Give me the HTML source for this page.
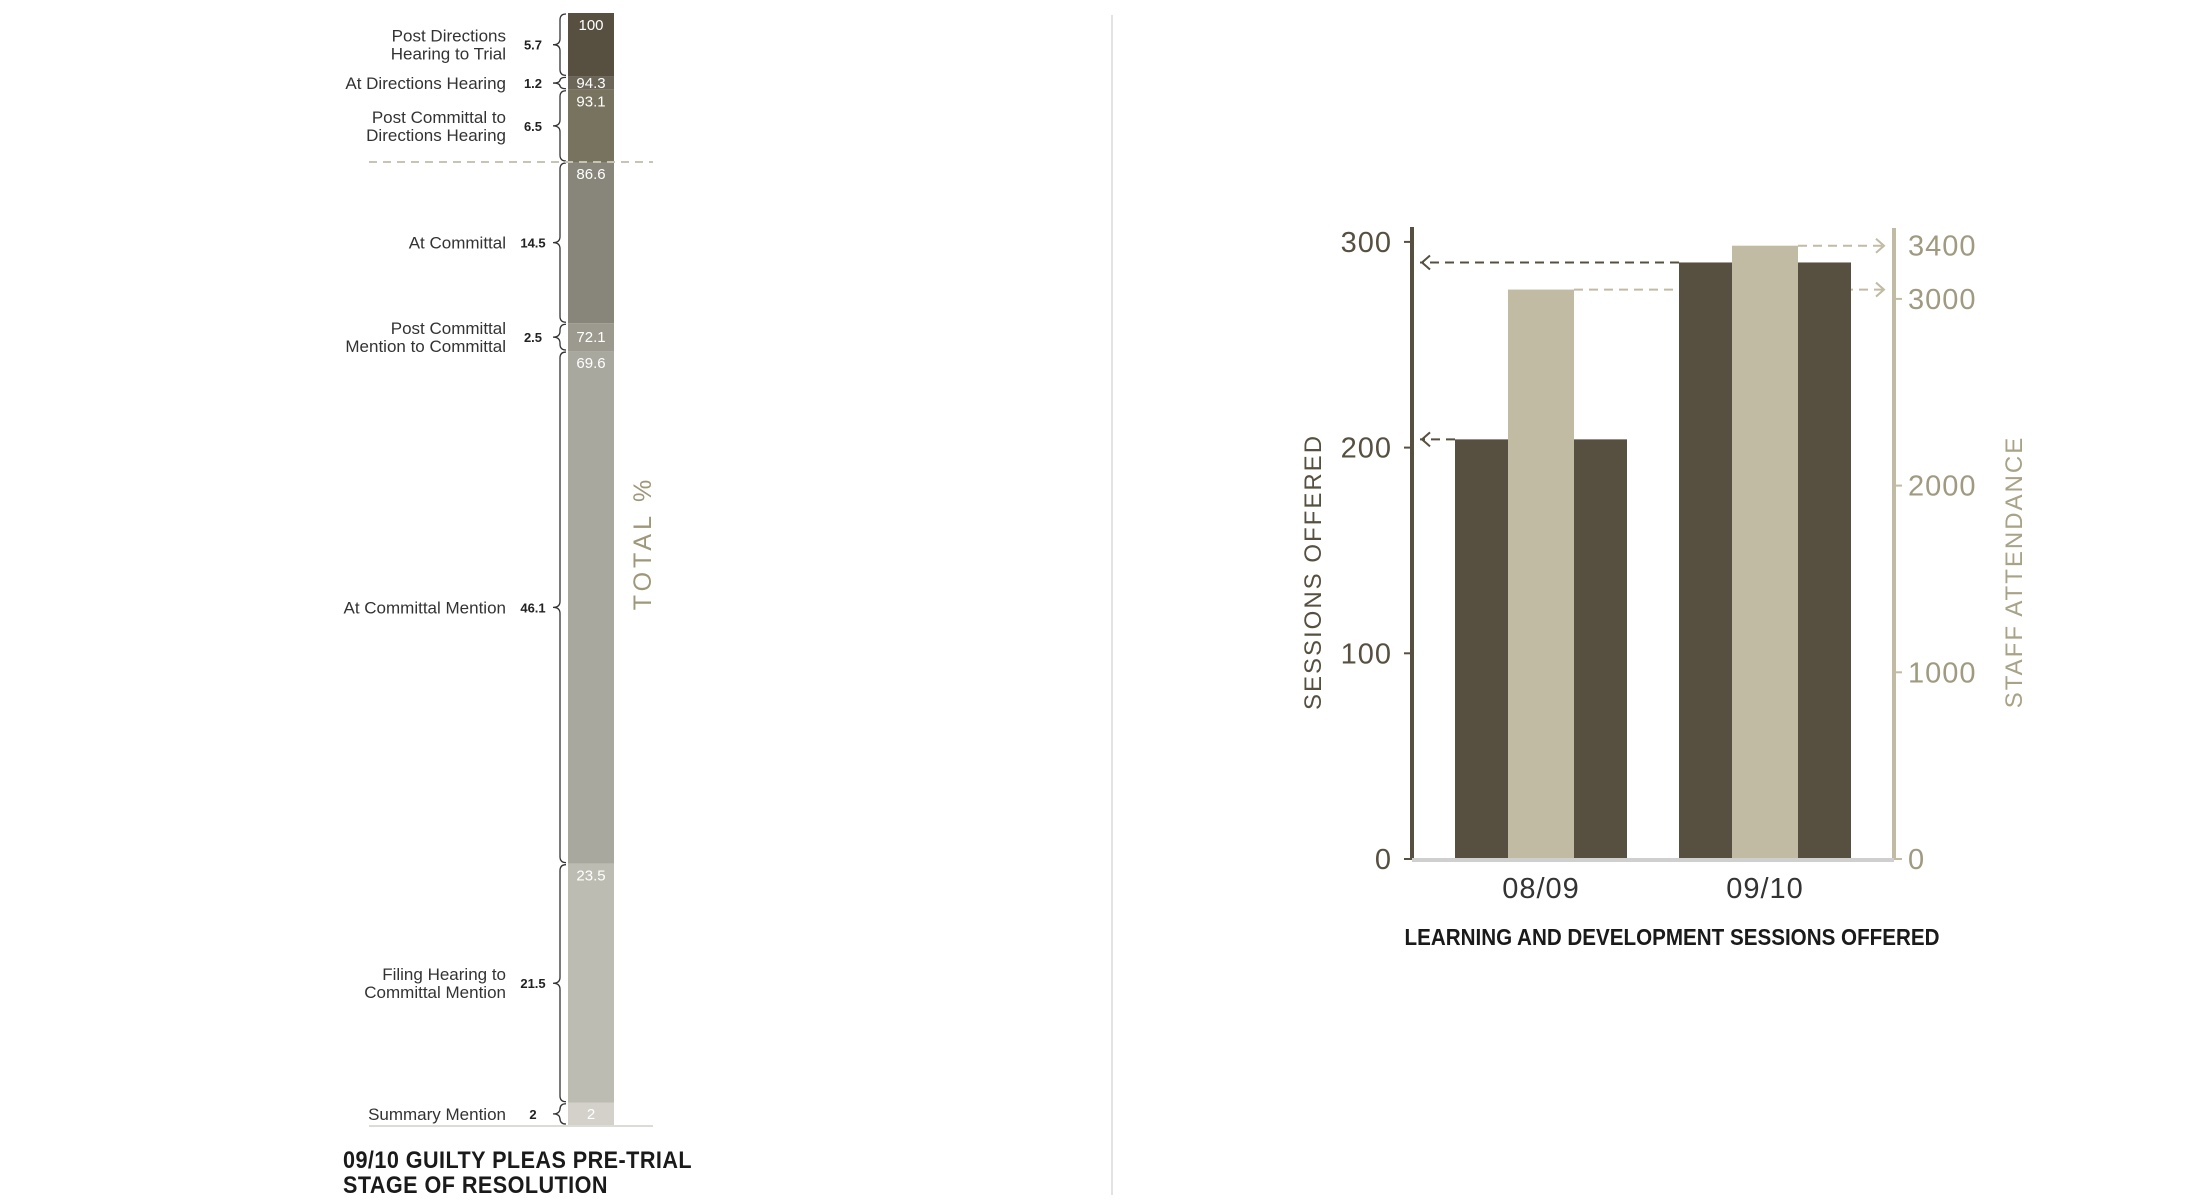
<!DOCTYPE html>
<html><head><meta charset="utf-8"><style>
html,body{margin:0;padding:0;background:#fff;}
svg{display:block;font-family:"Liberation Sans",sans-serif;}
</style></head><body>
<svg id="c" width="2200" height="1200" viewBox="0 0 2200 1200" xmlns="http://www.w3.org/2000/svg">
<line x1="1112" y1="15" x2="1112" y2="1195" stroke="#e3e3e3" stroke-width="2"/>
<g id="left"></g>
<g id="right"></g>
</svg>
<script>
// ----- Left chart data -----
const stageNames = [["Summary Mention"],["Filing Hearing to","Committal Mention"],["At Committal Mention"],["Post Committal","Mention to Committal"],["At Committal"],["Post Committal to","Directions Hearing"],["At Directions Hearing"],["Post Directions","Hearing to Trial"]];
const stageValues = [2, 21.5, 46.1, 2.5, 14.5, 6.5, 1.2, 5.7];
const stageValueLabels = ["2","21.5","46.1","2.5","14.5","6.5","1.2","5.7"];
const cumLabels = ["2","23.5","69.6","72.1","86.6","93.1","94.3","100"];
const stageColors = ["#d3d1c9","#bdbcb2","#a9a89f","#9c9a8f","#88867a","#77735f","#6b6657","#575040"];
const dividerValue = 86.6;

const NS = "http://www.w3.org/2000/svg";
function mk(tag, attrs, parent, text){const e=document.createElementNS(NS,tag);for(const k in attrs)e.setAttribute(k,attrs[k]);if(text!==undefined)e.textContent=text;parent.appendChild(e);return e;}

(function(){
  const g=document.getElementById('left');
  const y0=1125, y100=13;
  const ys=v=>y0-(y0-y100)*v/100;
  const bx=568, bw=46;
  let cum=0;
  stageValues.forEach((v,i)=>{
    const b=cum, t=cum+v; cum=t;
    const yt=ys(t), yb=ys(b);
    const r=mk('rect',{x:bx,y:yt,width:bw,height:yb-yt,fill:stageColors[i]},g);
    
    
    const ty=(yb-yt)<30?(yt+yb)/2+5:yt+17;
    const lt=mk('text',{x:bx+bw/2,y:ty,'text-anchor':'middle','font-size':'15',fill:'#fff'},g,cumLabels[i]);
    
    
    // brace
    const x0=566,x1=560,xp=553,mid=(yt+yb)/2,rr=Math.min(6,(yb-yt)/4);
    const p=mk('path',{d:`M${x0} ${yt+1} Q${x1} ${yt+1} ${x1} ${yt+1+rr} L${x1} ${mid-rr} Q${x1} ${mid} ${xp} ${mid} Q${x1} ${mid} ${x1} ${mid+rr} L${x1} ${yb-1-rr} Q${x1} ${yb-1} ${x0} ${yb-1}`,fill:'none',stroke:'#333','stroke-width':'1.3'},g);
    
    
    const vt=mk('text',{x:533,y:mid+5,'text-anchor':'middle','font-size':'13','font-weight':'bold',fill:'#222'},g,stageValueLabels[i]);
    
    
    const lines=stageNames[i];
    lines.forEach((s,j)=>{
      const yy=mid+6+(j-(lines.length-1)/2)*18;
      const nt=mk('text',{x:506,y:yy,'text-anchor':'end','font-size':'17',fill:'#333'},g,s);
      
      
    });
  });
  const dl=mk('line',{x1:369,x2:653,y1:ys(dividerValue),y2:ys(dividerValue),stroke:'#c8c4b4','stroke-width':'2','stroke-dasharray':'8 6'},g);
  
  
  const bl=mk('line',{x1:369,x2:653,y1:y0+1,y2:y0+1,stroke:'#dcdcd6','stroke-width':'2'},g);
  
  
  const tt=mk('text',{x:0,y:0,transform:'translate(651,543) rotate(-90)','text-anchor':'middle','font-size':'25','letter-spacing':'4',fill:'#9e9779'},g,'TOTAL %');
  
  
  const t1=mk('text',{x:343,y:1168,'font-size':'24','font-weight':'bold',fill:'#1a1a1a','letter-spacing':'0.5',transform:'translate(343 0) scale(0.9 1) translate(-343 0)'},g,'09/10 GUILTY PLEAS PRE-TRIAL');
  
  
  const t2=mk('text',{x:343,y:1193,'font-size':'24','font-weight':'bold',fill:'#1a1a1a','letter-spacing':'0.5',transform:'translate(343 0) scale(0.9 1) translate(-343 0)'},g,'STAGE OF RESOLUTION');
  
  
})();

// ----- Right chart data -----
const years = ["08/09","09/10"];
const sessions = [204, 290];
const attendance = [3050, 3285];
const leftTicks = [0,100,200,300];
const rightTicks = [0,1000,2000,3000];
const rightTopLabel = "3400";

(function(){
  const g=document.getElementById('right');
  const y0=859, ax=1412, rx=1894;
  const yL=v=>y0-v*2.057;
  const yR=v=>y0-v*0.1867;
  const cx=i=>1541+i*224;
  const dark="#575040", light="#c1bba3", lightTxt="#a09a80";
  // dashed guides
  years.forEach((y,i)=>{
    const sy=yL(sessions[i]);
    const d=mk('line',{x1:cx(i)-86,x2:ax+8,y1:sy,y2:sy,stroke:dark,'stroke-width':'2','stroke-dasharray':'9 6'},g);
    
    
    const a=mk('path',{d:`M${ax+18} ${sy-7} L${ax+10} ${sy} L${ax+18} ${sy+7}`,fill:'none',stroke:dark,'stroke-width':'2'},g);
    
    
    const ay=yR(attendance[i]);
    const d2=mk('line',{x1:cx(i)+33,x2:rx-8,y1:ay,y2:ay,stroke:light,'stroke-width':'2','stroke-dasharray':'9 6'},g);
    
    
    const a2=mk('path',{d:`M${rx-18} ${ay-7} L${rx-10} ${ay} L${rx-18} ${ay+7}`,fill:'none',stroke:light,'stroke-width':'2'},g);
    
    
  });
  years.forEach((y,i)=>{
    const sy=yL(sessions[i]);
    const b=mk('rect',{x:cx(i)-86,y:sy,width:172,height:y0-sy,fill:dark},g);
    
    
    const ay=yR(attendance[i]);
    const b2=mk('rect',{x:cx(i)-33,y:ay,width:66,height:y0-ay,fill:light},g);
    
    
    const xl=mk('text',{x:cx(i),y:898,'text-anchor':'middle','font-size':'29',fill:'#333','letter-spacing':'1'},g,y);
    
    
  });
  const la=mk('line',{x1:ax,x2:ax,y1:227,y2:860,stroke:dark,'stroke-width':'4'},g);
  
  
  const ra=mk('line',{x1:rx,x2:rx,y1:228,y2:860,stroke:light,'stroke-width':'4'},g);
  
  
  const base=mk('line',{x1:ax,x2:rx,y1:860,y2:860,stroke:'#cfcfcf','stroke-width':'4'},g);
  
  
  leftTicks.forEach(v=>{
    const y=yL(v);
    const tk=mk('line',{x1:ax-8,x2:ax,y1:y,y2:y,stroke:dark,'stroke-width':'2'},g);
    
    
    const t=mk('text',{x:1392,y:y+10,'text-anchor':'end','font-size':'29',fill:dark,'letter-spacing':'1'},g,String(v));
    
    
  });
  rightTicks.forEach(v=>{
    const y=yR(v);
    const tk=mk('line',{x1:rx,x2:rx+8,y1:y,y2:y,stroke:light,'stroke-width':'2'},g);
    
    
    const t=mk('text',{x:1908,y:y+10,'font-size':'29',fill:lightTxt,'letter-spacing':'1'},g,String(v));
    
    
  });
  const topY=yR(Math.max(...attendance));
  const tl=mk('text',{x:1908,y:topY+10,'font-size':'29',fill:lightTxt,'letter-spacing':'1'},g,rightTopLabel);
  
  
  const lt=mk('text',{x:0,y:0,transform:'translate(1321,572) rotate(-90)','text-anchor':'middle','font-size':'24','letter-spacing':'2',fill:dark},g,'SESSIONS OFFERED');
  
  
  const rt=mk('text',{x:0,y:0,transform:'translate(2022,572) rotate(-90)','text-anchor':'middle','font-size':'24','letter-spacing':'2',fill:'#a8a287'},g,'STAFF ATTENDANCE');
  
  
  const ti=mk('text',{x:1672,y:945,'text-anchor':'middle','font-size':'23','font-weight':'bold',fill:'#1a1a1a',textLength:'535',lengthAdjust:'spacingAndGlyphs'},g,'LEARNING AND DEVELOPMENT SESSIONS OFFERED');
  
  
})();
</script>
</body></html>
